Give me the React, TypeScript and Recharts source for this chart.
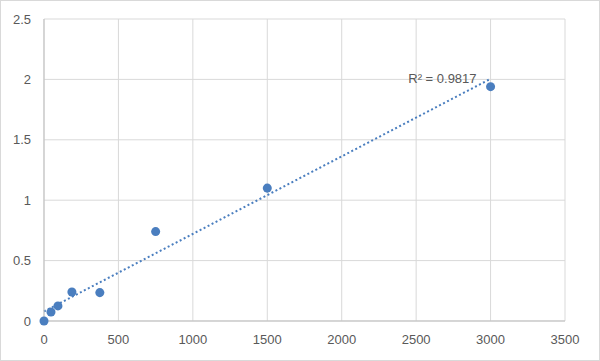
import {
  ScatterChart,
  Scatter,
  XAxis,
  YAxis,
  CartesianGrid,
  ReferenceLine,
  ReferenceDot,
} from "recharts"

// standard concentrations and measured OD
const concentrations = [0, 46.875, 93.75, 187.5, 375, 750, 1500, 3000]
const absorbance = [0, 0.075, 0.125, 0.24, 0.235, 0.74, 1.1, 1.94]
const xTicks = [0, 500, 1000, 1500, 2000, 2500, 3000, 3500]
const yTicks = [0, 0.5, 1, 1.5, 2, 2.5]
const r2Label = "R² = 0.9817"

const points = concentrations.map((x, i) => ({ x, y: absorbance[i] }))

// least squares fit, like the excel trendline
const n = points.length
const mx = concentrations.reduce((a, b) => a + b, 0) / n
const my = absorbance.reduce((a, b) => a + b, 0) / n
const sxy = points.reduce((s, p) => s + (p.x - mx) * (p.y - my), 0)
const sxx = points.reduce((s, p) => s + (p.x - mx) ** 2, 0)
const slope = sxy / sxx
const intercept = my - slope * mx
const xMin = concentrations[0]
const xMax = concentrations[concentrations.length - 1]
const fitStart = { x: xMin, y: intercept + slope * xMin }
const fitEnd = { x: xMax, y: intercept + slope * xMax }

const blue = "#4a7ebf"
const tickStyle = { fill: "#595959", fontSize: 13, fontFamily: "Liberation Sans, Arial, sans-serif" }

function R2Label(props: any) {
  const { viewBox } = props
  const cx = viewBox.x + (viewBox.width || 0) / 2
  const cy = viewBox.y + (viewBox.height || 0) / 2
  return (
    <text
      x={cx - 14}
      y={cy + 4}
      textAnchor="end"
      fill="#595959"
      fontSize={13}
      fontFamily="Liberation Sans, Arial, sans-serif"
    >
      {r2Label}
    </text>
  )
}

export default function App() {
  return (
    <div
      style={{
        position: "absolute",
        left: 0,
        top: 0,
        width: 600,
        height: 361,
        boxSizing: "border-box",
        border: "1px solid #d9d9d9",
        background: "#fff",
      }}
    >
      <ScatterChart width={598} height={359} margin={{ top: 18, right: 34, bottom: 0, left: 0 }}>
        <CartesianGrid stroke="#d9d9d9" strokeWidth={1} />
        <XAxis
          type="number"
          dataKey="x"
          domain={[0, 3500]}
          ticks={xTicks}
          height={39}
          tickLine={false}
          tickSize={0}
          tickMargin={14}
          axisLine={{ stroke: "#bfbfbf" }}
          tick={tickStyle}
          interval={0}
        />
        <YAxis
          type="number"
          dataKey="y"
          domain={[0, 2.5]}
          ticks={yTicks}
          width={43}
          tickLine={false}
          tickSize={0}
          tickMargin={13}
          axisLine={{ stroke: "#bfbfbf" }}
          tick={tickStyle}
          interval={0}
        />
        <ReferenceLine
          segment={[fitStart, fitEnd]}
          stroke={blue}
          strokeWidth={2}
          strokeDasharray="2 2.5"
          ifOverflow="visible"
        />
        <ReferenceDot
          x={fitEnd.x}
          y={fitEnd.y}
          r={0}
          fill="none"
          stroke="none"
          ifOverflow="visible"
          label={<R2Label />}
        />
        <Scatter data={points} fill={blue} isAnimationActive={false} shape="circle" />
      </ScatterChart>
    </div>
  )
}
